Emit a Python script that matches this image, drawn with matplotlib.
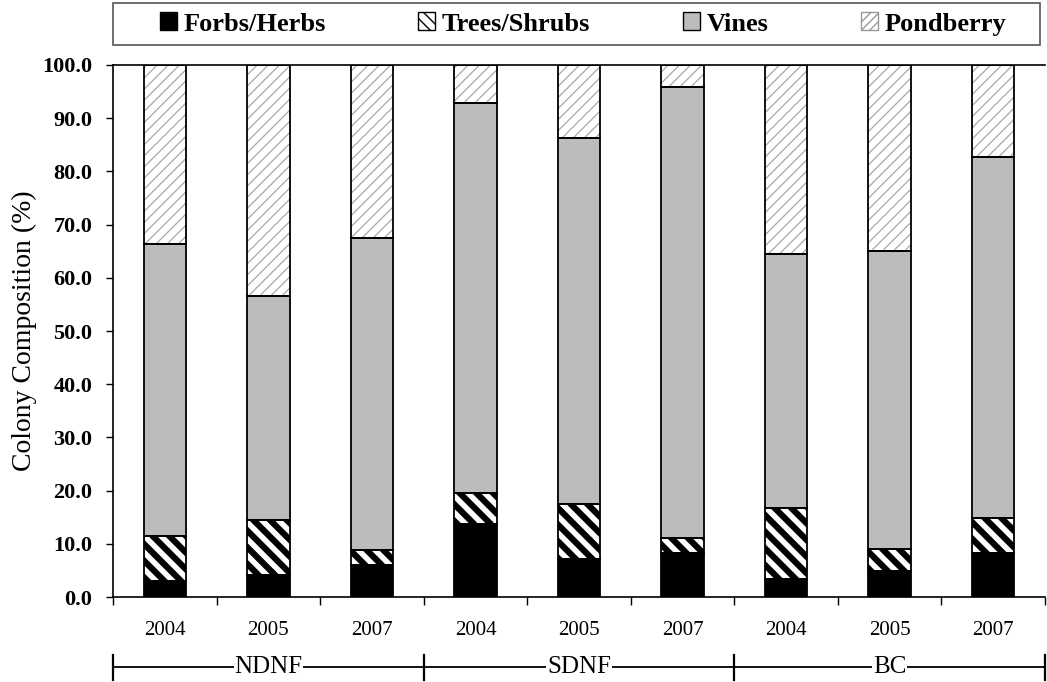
import numpy as np
import matplotlib
matplotlib.use("Agg")
import matplotlib.pyplot as plt
from matplotlib.patches import Patch, Rectangle
import matplotlib.transforms as mtransforms

# values (%)
groups = ["NDNF", "SDNF", "BC"]
years = ["2004", "2005", "2007", "2004", "2005", "2007", "2004", "2005", "2007"]
forbs = [3.0, 4.2, 6.0, 13.7, 7.1, 8.3, 3.4, 4.8, 8.3]
trees = [8.5, 10.3, 2.8, 5.8, 10.3, 2.7, 13.3, 4.2, 6.5]
vines = [54.8, 42.0, 58.7, 73.4, 68.8, 84.8, 47.8, 56.0, 68.0]
pondberry = [33.7, 43.5, 32.5, 7.1, 13.8, 4.2, 35.5, 35.0, 17.2]

serif = ["Liberation Serif", "DejaVu Serif"]
plt.rcParams["font.family"] = serif

fig = plt.figure(figsize=(10.47, 6.82), dpi=100)
ax = fig.add_axes([0.108, 0.1246, 0.890, 0.7801])

x = np.arange(len(years)) + 0.5
w = 0.41

# stacked segments: (values, facecolor, hatch, hatch colour, hatch width)
layers = [
    (forbs, "black", None, "black", 1.0),
    (trees, "white", "\\\\", "black", 4.5),
    (vines, "#bcbcbc", None, "#bcbcbc", 1.0),
    (pondberry, "white", "///", "#a8a8a8", 0.9),
]
bottom = np.zeros(len(years))
for vals, fc, hatch, hc, hlw in layers:
    with plt.rc_context({"hatch.linewidth": hlw, "hatch.color": hc}):
        bars = ax.bar(x, vals, w, bottom=bottom, color=fc, hatch=hatch,
                      edgecolor=hc, linewidth=0, zorder=2)
    for b in bars:
        if hasattr(b, "set_hatch_linewidth"):
            b.set_hatch_linewidth(hlw)
    ax.bar(x, vals, w, bottom=bottom, fill=False, edgecolor="black",
           linewidth=1.3, zorder=3)
    bottom += np.array(vals)

ax.set_xlim(0, 9)
ax.set_ylim(0, 100)
ax.set_yticks(np.arange(0, 101, 10))
ax.set_yticklabels([f"{v:.1f}" for v in np.arange(0, 101, 10)],
                   fontsize=16, fontweight="bold")
ax.tick_params(axis="y", direction="out", length=5, width=1, pad=10)

ax.set_xticks(x)
ax.set_xticklabels(years, fontsize=15)
ax.set_xticks(np.arange(0, 10), minor=True)
ax.tick_params(axis="x", which="major", length=0, pad=17)
ax.tick_params(axis="x", which="minor", direction="out", length=6, width=1)

ax.set_ylabel("Colony Composition (%)", fontsize=20, labelpad=4)

ax.spines["right"].set_visible(False)
for s in ["left", "bottom", "top"]:
    ax.spines[s].set_linewidth(1.2)

# group bracket under the year labels
trans = mtransforms.blended_transform_factory(ax.transData, ax.transAxes)
ax.plot([0, 9], [-0.1316, -0.1316], color="black", lw=1.3,
        transform=trans, clip_on=False)
for b in [0, 3, 6, 9]:
    ax.plot([b, b], [-0.109, -0.156], color="black", lw=1.6,
            transform=trans, clip_on=False)
for i, g in enumerate(groups):
    ax.text(i * 3 + 1.5, -0.1316, g, transform=trans, ha="center", va="center",
            fontsize=18, bbox=dict(facecolor="white", edgecolor="none", pad=0.5))

# legend: frame spans the plot width, entries centred inside
fig.add_artist(Rectangle((113 / 1047, 1 - 45 / 682), (1040 - 113) / 1047, 42 / 682,
                         transform=fig.transFigure, facecolor="white",
                         edgecolor="#555555", linewidth=1.2))
handles = [
    Patch(facecolor="black", edgecolor="black", label="Forbs/Herbs"),
    Patch(facecolor="white", edgecolor="black", hatch="\\\\\\", label="Trees/Shrubs"),
    Patch(facecolor="#bcbcbc", edgecolor="black", label="Vines"),
    Patch(facecolor="white", edgecolor="#999999", hatch="////", label="Pondberry"),
]
fig.legend(handles=handles, loc="center", ncol=4,
           bbox_to_anchor=(583 / 1047, 1 - 24 / 682),
           prop={"family": serif, "weight": "bold", "size": 19},
           frameon=False, handlelength=0.65, handleheight=0.65,
           handletextpad=0.25, columnspacing=3.5, borderaxespad=0, borderpad=0)

fig.savefig("out.png", dpi=100)
